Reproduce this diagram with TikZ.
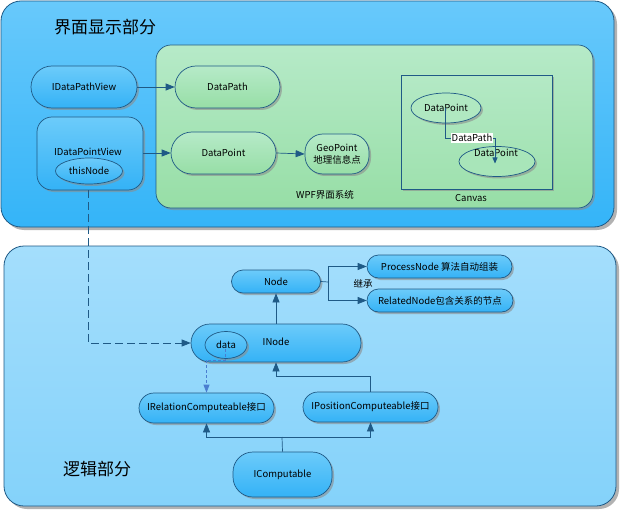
\documentclass[tikz,border=0pt]{standalone}
\usepackage{fontspec}
\setmainfont{Noto Sans CJK SC}
\usetikzlibrary{shapes.geometric,arrows.meta,shadows}
\definecolor{edge}{HTML}{1F5A86}
\definecolor{bluetop}{HTML}{6CCBFA}
\definecolor{bluebot}{HTML}{34B2F6}
\definecolor{pantop}{HTML}{68C9FB}
\definecolor{panbot}{HTML}{34B4F8}
\definecolor{lpantop}{HTML}{A4DEFC}
\definecolor{lpanbot}{HTML}{84D2FA}
\definecolor{greentop}{HTML}{B6EAC8}
\definecolor{greenbot}{HTML}{97DEA6}
\definecolor{dashblue}{HTML}{4A7ED0}
\tikzset{
  shade/.style={drop shadow={shadow xshift=2pt,shadow yshift=-2pt,fill=black!45,opacity=0.6}},
  panel/.style={draw=edge,line width=0.8pt,rounded corners=20pt,drop shadow={shadow xshift=3pt,shadow yshift=-3pt,fill=black!50,opacity=0.6}},
  bluepill/.style={draw=edge,line width=0.7pt,top color=bluetop,bottom color=bluebot,shade,inner sep=0pt},
  greenpill/.style={draw=edge,line width=0.7pt,top color=greentop,bottom color=greenbot,shade,inner sep=0pt},
  arr/.style={draw=edge,line width=0.7pt,-{Triangle[length=9pt,width=7pt]}},
  conn/.style={draw=edge,line width=0.7pt},
  title/.style={font=\fontsize{17}{19}\selectfont},
  lbl/.style={font=\fontsize{9.5}{11}\selectfont,inner sep=1pt},
}
\begin{document}
\begin{tikzpicture}[x=1pt,y=-1pt,font=\fontsize{9.5}{11}\selectfont]
\useasboundingbox (0,0) rectangle (623,513);
\fill[white] (0,0) rectangle (623,513);
% top panel
\node[panel,top color=pantop,bottom color=panbot,minimum width=613pt,minimum height=226pt,inner sep=0pt] (top) at (307.5,114) {};
\node[title] (t1) at (105,27) {界面显示部分};
% green panel
\node[draw=edge,line width=0.7pt,rounded corners=15pt,top color=greentop,bottom color=greenbot,shade,minimum width=437pt,minimum height=163pt,inner sep=0pt] (wpf) at (374.5,126.5) {};
\node[lbl] (wpflbl) at (325,195) {WPF界面系统};
% left view nodes
\node[bluepill,rounded corners=21pt,minimum width=106pt,minimum height=42pt] (dpv) at (84,87) {IDataPathView};
\node[bluepill,rounded corners=15pt,minimum width=106pt,minimum height=73pt] (dptv) at (90,153.5) {};
\node[lbl] (dptvlbl) at (88,152) {IDataPointView};
\node[draw=edge,line width=0.7pt,ellipse,top color=bluetop,bottom color=bluebot,shade,minimum width=67pt,minimum height=26pt,inner sep=0pt] (thisn) at (89,171) {thisNode};
% green nodes
\node[greenpill,rounded corners=21pt,minimum width=105pt,minimum height=42pt] (dpath) at (227.5,87) {DataPath};
\node[greenpill,rounded corners=21pt,minimum width=105pt,minimum height=42pt] (dpoint) at (223.5,153) {DataPoint};
\node[greenpill,rounded corners=18pt,minimum width=64pt,minimum height=40pt,align=center,font=\fontsize{9.5}{12}\selectfont] (geo) at (337,154) {GeoPoint\\地理信息点};
\draw[arr] (dpv.east) -- (dpath.west);
\draw[arr] (dptv.east |- dpoint.west) -- (dpoint.west);
\draw[arr] (dpoint.east) -- (geo.west);
% canvas
\node[draw=edge,line width=0.8pt,shade,top color=greentop!92!greenbot,bottom color=greentop!25!greenbot,minimum width=151pt,minimum height=114pt,inner sep=0pt] (canvas) at (476.5,132) {};
\node[lbl] (canvaslbl) at (471,198) {Canvas};
\node[draw=edge,line width=0.7pt,ellipse,fill=greentop!80!greenbot,shade,minimum width=70pt,minimum height=30pt,inner sep=0pt] (cdp1) at (446,108) {DataPoint};
\node[draw=edge,line width=0.7pt,ellipse,fill=greentop!55!greenbot,shade,minimum width=76pt,minimum height=30pt,inner sep=0pt] (cdp2) at (497,161.5) {};
\node[lbl] (cdp2lbl) at (496,153) {DataPoint};
\coordinate (cm) at (472,138);
\draw[arr,-{Triangle[length=6pt,width=5pt]}] ([xshift=-1pt]cdp1.center) |- ([xshift=-2pt]cdp2.center |- cm) -- ([xshift=-2pt,yshift=-2pt]cdp2.center);
\node[lbl,fill=white,inner sep=1pt] (pathlbl) at (cm) {DataPath};
% bottom panel
\node[panel,top color=lpantop,bottom color=lpanbot,minimum width=612pt,minimum height=260pt,inner sep=0pt] (bot) at (310,376) {};
\node[title] (t2) at (97,469) {逻辑部分};
% logic nodes
\node[bluepill,rounded corners=11.5pt,minimum width=89pt,minimum height=23pt] (node) at (276,281.5) {Node};
\node[bluepill,rounded corners=11.5pt,minimum width=145pt,minimum height=23pt] (proc) at (439.5,266.5) {ProcessNode 算法自动组装};
\node[bluepill,rounded corners=11.5pt,minimum width=146pt,minimum height=23pt] (rel) at (440,300.5) {RelatedNode包含关系的节点};
\node[lbl] (jc) at (363,284) {继承};
\coordinate (br) at (328,282);
\draw[conn] (node.east) -- (br);
\draw[arr] (br) |- (proc.west);
\draw[arr] (br) |- (rel.west);
\node[bluepill,rounded corners=19pt,minimum width=170pt,minimum height=38pt] (inode) at (276,343) {};
\node[lbl] (inodelbl) at (276,342) {INode};
\node[draw=edge,line width=0.7pt,ellipse,top color=bluetop,bottom color=bluebot,shade,minimum width=42pt,minimum height=27pt,inner sep=0pt] (data) at (226,345) {data};
\draw[arr] (inode.north) -- (node.south);
\node[bluepill,rounded corners=15pt,minimum width=135pt,minimum height=30pt] (irel) at (206.5,408) {IRelationComputeable接口};
\node[bluepill,rounded corners=15pt,minimum width=135pt,minimum height=30pt] (ipos) at (370.5,407) {IPositionComputeable接口};
\node[bluepill,rounded corners=20pt,minimum width=99pt,minimum height=45pt] (icomp) at (282.5,474.5) {IComputable};
\coordinate (j1) at (282,437);
\coordinate (j2) at (276,376);
\draw[conn] (icomp.north) -- (j1);
\draw[arr] (j1) -| (irel.south);
\draw[arr] (j1) -| (ipos.south);
\draw[conn] (ipos.north) |- (j2);
\draw[arr] (j2) -- (inode.south);
% dashed cross links
\draw[arr,dashed,dash pattern=on 8pt off 4pt] ([xshift=-2pt]dptv.south) |- (inode.west);
\draw[draw=dashblue,line width=0.7pt,dash pattern=on 3pt off 2pt,-{Triangle[length=8pt,width=6pt,fill=dashblue]}] ([xshift=-1pt,yshift=10pt]data.south) |- ([yshift=-1pt]data.south -| irel.north) -- (irel.north);
\end{tikzpicture}
\end{document}
